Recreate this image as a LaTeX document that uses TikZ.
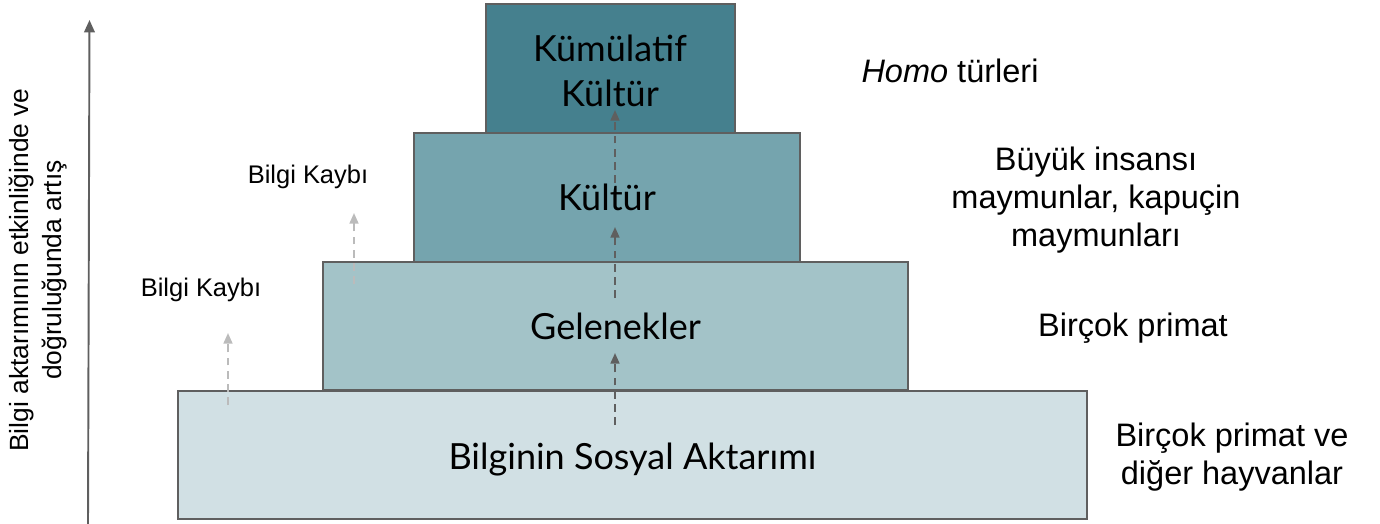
\documentclass[tikz,border=0pt]{standalone}
\usepackage{fontspec}
\setmainfont{Liberation Sans}
\newfontfamily\tierfont{Lato}
\usepackage{tikz}
\usetikzlibrary{arrows.meta, positioning}
\definecolor{tier_one}{HTML}{D1E0E4}
\definecolor{tier_two}{HTML}{A3C3C8}
\definecolor{tier_three}{HTML}{75A4AE}
\definecolor{tier_four}{HTML}{45808E}
\definecolor{edge_gray}{HTML}{5F5F5F}
\definecolor{loss_gray}{HTML}{BBBBBB}
\tikzset{
    tier/.style={rectangle, draw=edge_gray, line width=1.1pt, align=center, inner sep=0pt, font=\tierfont\fontsize{20.5}{24}\selectfont},
    group/.style={align=center, font=\fontsize{18.5}{21.5}\selectfont},
    loss/.style={font=\fontsize{14.5}{17}\selectfont},
    flow/.style={draw=edge_gray, line width=1.1pt, dash pattern=on 4.5pt off 3pt, -{Triangle[length=6pt, width=5pt]}},
    lossflow/.style={flow, draw=loss_gray}
}

\begin{document}
\begin{tikzpicture}[x=0.02cm, y=-0.02cm]
        \useasboundingbox (0,0) rectangle (1380,524);

        % Pyramid tiers
        \node (Social) [tier, fill=tier_one, minimum width=909*0.02cm, minimum height=128*0.02cm, text height=20pt, text depth=4pt] at (632.5, 455) {Bilginin Sosyal Aktarımı};
        \node (Tradition) [tier, fill=tier_two, minimum width=585*0.02cm, minimum height=128*0.02cm] at (615.5, 326) {Gelenekler};
        \node (Culture) [tier, fill=tier_three, minimum width=386*0.02cm, minimum height=129*0.02cm] at (607, 197.5) {Kültür};
        \node (Cumulative) [tier, fill=tier_four, minimum width=249*0.02cm, minimum height=129*0.02cm] at (610.5, 68.5) {};
        \node (Cumulative_label) [font=\tierfont\fontsize{20.5}{25.5}\selectfont, align=center] at (610, 71) {Kümülatif\\Kültür};

        % Groups on the right
        \node (Homo_label) [group] at (950, 71) {\textit{Homo} türleri};
        \node (Apes_label) [group] at (1096, 200) {Büyük insansı\\maymunlar, kapuçin\\maymunları};
        \node (Primate_label) [group] at (1133, 328) {Birçok primat};
        \node (Animal_label) [group] at (1232, 457) {Birçok primat ve\\diğer hayvanlar};

        % Loss labels
        \node (Loss_low) [loss] at (201, 290) {Bilgi Kaybı};
        \node (Loss_high) [loss] at (308, 177) {Bilgi Kaybı};

        % Transmission
        \coordinate (T1s) at (615, 425);
        \coordinate (T1e) at (615, 353);
        \coordinate (T2s) at (615, 298);
        \coordinate (T2e) at (615, 227);
        \coordinate (T3s) at (615, 183);
        \coordinate (T3e) at (615, 110);
        \draw[flow] (T1s) -- (T1e);
        \draw[flow] (T2s) -- (T2e);
        \draw[flow] (T3s) -- (T3e);

        \coordinate (L1s) at (228, 405);
        \coordinate (L1e) at (228, 333);
        \coordinate (L2s) at (354, 284);
        \coordinate (L2e) at (354, 213);
        \draw[lossflow] (L1s) -- (L1e);
        \draw[lossflow] (L2s) -- (L2e);

        % Axis
        \coordinate (Axis_low) at (88, 524);
        \coordinate (Axis_high) at (89.5, 20);
        \draw[edge_gray, line width=1.1pt, -{Triangle[length=7pt, width=6pt]}] (Axis_low) -- (Axis_high);
        \node (Axis_label) [rotate=90, align=center, font=\fontsize{15}{19}\selectfont] at (38, 270) {Bilgi aktarımının etkinliğinde ve\\doğruluğunda artış};

    \end{tikzpicture}
\end{document}
